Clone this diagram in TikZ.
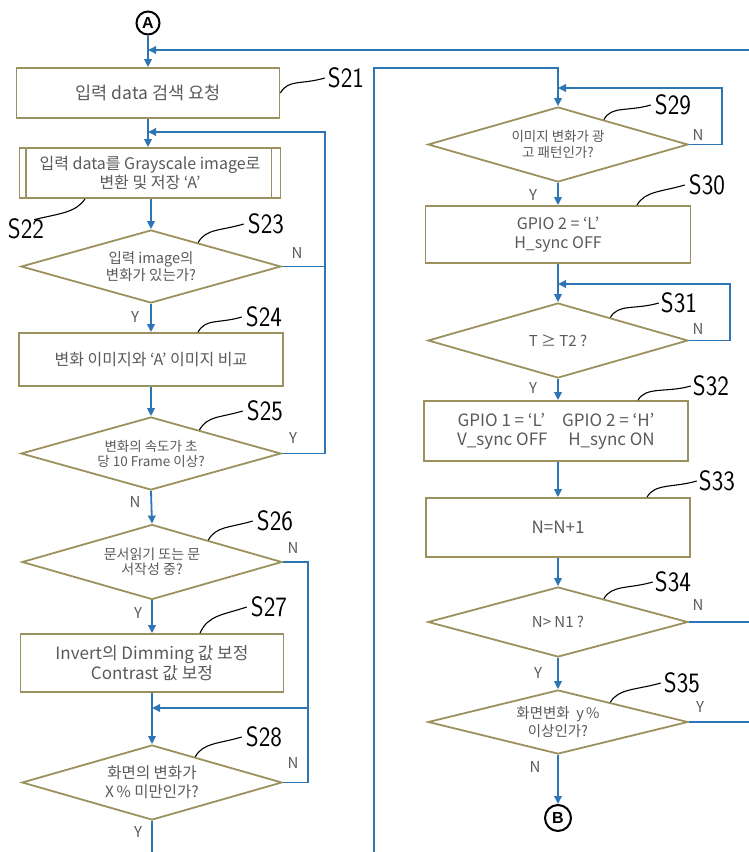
\documentclass[tikz,border=0pt]{standalone}
\usepackage{fontspec}
\setmainfont{Noto Sans CJK KR}
\newfontfamily\lblfont[FakeStretch=0.88]{lmsans17-regular.otf}
\newfontfamily\circfont{Liberation Sans}
\usetikzlibrary{arrows.meta,shapes.geometric,calc}
\definecolor{flow}{RGB}{46,117,182}
\definecolor{olive}{RGB}{155,145,95}
\definecolor{txt}{RGB}{90,90,90}
\begin{document}
\begin{tikzpicture}[x=1pt,y=-1pt,
  box/.style={draw=olive, line width=1.8pt, fill=white, text=txt, align=center, inner sep=0pt, font=\fontsize{16}{19}\selectfont},
  dia/.style={diamond, aspect=3.5, draw=olive, line width=1.8pt, fill=white, text=txt, align=center, inner sep=0pt, minimum width=260pt, font=\fontsize{14}{15}\selectfont},
  arr/.style={flow, line width=1.8pt, -{Triangle[length=8pt,width=7.5pt]}},
  ln/.style={flow, line width=1.8pt},
  yn/.style={text=txt, font=\fontsize{15}{15}\selectfont, inner sep=0pt},
  slbl/.style={font=\lblfont\fontsize{28}{28}\selectfont, inner sep=0pt},
  lead/.style={black, line width=1.1pt},
  conn/.style={circle, draw=black, line width=2pt, minimum size=23pt, inner sep=0pt, font=\circfont\bfseries\fontsize{16}{16}\selectfont}
]
\useasboundingbox (0,0) rectangle (749,852);

% ---------- left column ----------
\node[conn] (A) at (148,23) {A};
\node[box, minimum width=263pt, minimum height=50pt, font=\fontsize{17.5}{19}\selectfont] (S21) at (148,93) {입력 data 검색 요청};
\node[box, minimum width=261pt, minimum height=50pt] (S22) at (150,173) {입력 data를 Grayscale image로\\변환 및 저장 ‘A’};
\draw[olive, line width=1.8pt] ([xshift=7pt]S22.north west) -- ([xshift=7pt]S22.south west);
\draw[olive, line width=1.8pt] ([xshift=-10pt]S22.north east) -- ([xshift=-10pt]S22.south east);
\node[dia, minimum height=73pt, font=\fontsize{14.5}{15.5}\selectfont] (S23) at (151,266.5) {입력 image의\\변화가 있는가?};
\node[box, minimum width=264pt, minimum height=53pt] (S24) at (151,359.5) {변화 이미지와 ‘A’ 이미지 비교};
\node[dia, minimum height=73pt, font=\fontsize{13.5}{15}\selectfont] (S25) at (151,453.5) {변화의 속도가 초\\당 10 Frame 이상?};
\node[dia, minimum height=75pt, font=\fontsize{14}{15.5}\selectfont] (S26) at (152,562) {문서읽기 또는 문\\서작성 중?};
\node[box, minimum width=263pt, minimum height=58pt, font=\fontsize{17}{19.5}\selectfont] (S27) at (152,663) {Invert의 Dimming 값 보정\\Contrast 값 보정};
\node[dia, minimum height=75pt, font=\fontsize{15.5}{19}\selectfont] (S28) at (152,782.5) {화면의 변화가\\X\,\% 미만인가?};

% ---------- right column ----------
\node[dia, minimum height=75pt, font=\fontsize{13.5}{15.5}\selectfont] (S29) at (558,144.5) {이미지 변화가 광\\고 패턴인가?};
\node[box, minimum width=265pt, minimum height=57pt] (S30) at (558,234.5) {GPIO 2 = ‘L’\\H\_sync OFF};
\node[dia, minimum height=75pt, font=\fontsize{15}{15}\selectfont] (S31) at (558,340.5) {T ≥ T2 ?};
\node[box, minimum width=264pt, minimum height=60pt, font=\fontsize{17}{19}\selectfont] (S32) at (556,431) {GPIO 1 = ‘L’\quad GPIO 2 = ‘H’\\V\_sync OFF\quad\ H\_sync ON};
\node[box, minimum width=264pt, minimum height=59pt, font=\fontsize{17}{19}\selectfont] (S33) at (558,527.5) {N=N+1};
\node[dia, minimum height=70pt, font=\fontsize{15}{15}\selectfont] (S34) at (558,622) {N> N1 ?};
\node[dia, minimum height=64pt, font=\fontsize{14.5}{17.5}\selectfont] (S35) at (558,722) {화면변화 \ y\,\%\\이상인가?};
\node[conn, minimum size=26pt] (B) at (558,818) {B};

% ---------- helper coordinates ----------
\coordinate (topR) at (749,50);
\coordinate (j1) at (148,132);
\coordinate (lx1) at (325,0);
\coordinate (lx2) at (308,0);
\coordinate (j2) at (152,708);
\coordinate (bot1) at (152,852);
\coordinate (bot2) at (374,852);
\coordinate (t2) at (558,68);
\coordinate (j3) at (558,88);
\coordinate (lx3) at (722,0);
\coordinate (j4) at (558,284);
\coordinate (lx4) at (730,0);
\coordinate (r1) at (749,622);
\coordinate (r2) at (749,722);

% ---------- connectors left ----------
\draw[arr] (A.south) -- (S21.north);
\draw[arr] (topR) -- (topR -| A.south);
\draw[arr] (S21.south) -- (S21.south |- S22.north);
\draw[arr] (S23.east) -| (lx1 |- j1) -- (j1);
\draw[ln] (S25.east) -| (lx1 |- S23.east);
\draw[arr] (S22.south -| S23.north) -- (S23.north);
\draw[arr] (S23.south) -- (S24.north);
\draw[arr] (S24.south) -- (S25.north);
\draw[arr] (S25.south) -- (S26.north);
\draw[arr] (S26.south) -- (S27.north);
\draw[arr] (S27.south) -- (S28.north);
\draw[ln] (S26.east) -| (lx2 |- S28.east) -- (S28.east);
\draw[arr] (lx2 |- j2) -- (j2);
\draw[ln] (S28.south) -- (bot1);

% ---------- connectors right ----------
\draw[arr] (bot2) |- (t2) -- (S29.north);
\draw[arr] (S29.east) -| (lx3 |- j3) -- (j3);
\draw[arr] (S29.south) -- (S30.north);
\draw[arr] (S30.south) -- (S31.north);
\draw[arr] (S31.east) -| (lx4 |- j4) -- (j4);
\draw[arr] (S31.south) -- (S31.south |- S32.north);
\draw[arr] (S31.south |- S32.south) -- (S33.north);
\draw[arr] (S33.south) -- (S34.north);
\draw[arr] (S34.south) -- (S35.north);
\draw[arr] (S35.south) -- (B.north);
\draw[ln] (S34.east) -- (r1);
\draw[ln] (S35.east) -- (r2);

% ---------- Y / N labels ----------
\node[yn] (n23) at (297,253) {N};
\node[yn] (y23) at (135,317) {Y};
\node[yn] (y25) at (293,438) {Y};
\node[yn] (n25) at (135,502) {N};
\node[yn] (n26) at (293,548) {N};
\node[yn] (y26) at (138,613) {Y};
\node[yn] (n28) at (293,763) {N};
\node[yn] (y28) at (138,832) {Y};
\node[yn] (n29) at (698,135) {N};
\node[yn] (y29) at (533,195) {Y};
\node[yn] (n31) at (698,329) {N};
\node[yn] (y31) at (533,388) {Y};
\node[yn] (n34) at (698,605) {N};
\node[yn] (y34) at (538,673) {Y};
\node[yn] (y35) at (700,707) {Y};
\node[yn] (n35) at (535,767) {N};

% ---------- step labels ----------
\node[slbl] (L21) at (346,78) {S21};
\node[slbl] (L22) at (26,229) {S22};
\node[slbl] (L23) at (266,224) {S23};
\node[slbl] (L24) at (264,317) {S24};
\node[slbl] (L25) at (265,411) {S25};
\node[slbl] (L26) at (275,521) {S26};
\node[slbl] (L27) at (269,607) {S27};
\node[slbl] (L28) at (264,737) {S28};
\node[slbl] (L29) at (673,105) {S29};
\node[slbl] (L30) at (707,185) {S30};
\node[slbl] (L31) at (679,303) {S31};
\node[slbl] (L32) at (711,386) {S32};
\node[slbl] (L33) at (717,481) {S33};
\node[slbl] (L34) at (673,582) {S34};
\node[slbl] (L35) at (682,683) {S35};

% ---------- leader squiggles ----------
\draw[lead] (S21.east) .. controls +(8,-14) and +(-24,7) .. ([xshift=-3pt]L21.west);
\draw[lead] ([xshift=-65pt]S22.south) .. controls +(-9,14) and +(24,-6) .. ([shift={(-10pt,-1pt)}]L22.north east);
\draw[lead] ($(S23.north)!0.36!(S23.east)$) .. controls +(8,-14) and +(-24,7) .. ([xshift=-4pt]L23.west);
\draw[lead] ([xshift=47pt]S24.north) .. controls +(8,-14) and +(-24,7) .. ([xshift=-4pt]L24.west);
\draw[lead] ($(S25.north)!0.37!(S25.east)$) .. controls +(8,-14) and +(-24,7) .. ([xshift=-4pt]L25.west);
\draw[lead] ($(S26.north)!0.43!(S26.east)$) .. controls +(8,-14) and +(-24,7) .. ([xshift=-4pt]L26.west);
\draw[lead] ([xshift=48pt]S27.north) .. controls +(8,-18) and +(-24,8) .. ([xshift=-4pt]L27.west);
\draw[lead] ($(S28.north)!0.33!(S28.east)$) .. controls +(8,-14) and +(-24,7) .. ([xshift=-4pt]L28.west);
\draw[lead] ($(S29.north)!0.35!(S29.east)$) .. controls +(8,-14) and +(-24,7) .. ([xshift=-4pt]L29.west);
\draw[lead] ([xshift=79pt]S30.north) .. controls +(8,-14) and +(-24,7) .. ([xshift=-4pt]L30.west);
\draw[lead] ($(S31.north)!0.4!(S31.east)$) .. controls +(8,-14) and +(-24,7) .. ([xshift=-2pt]L31.west);
\draw[lead] ([xshift=82pt]S32.north) .. controls +(8,-14) and +(-24,7) .. ([xshift=-2pt]L32.west);
\draw[lead] ([xshift=89pt]S33.north) .. controls +(8,-14) and +(-24,7) .. ([xshift=-2pt]L33.west);
\draw[lead] ($(S34.north)!0.35!(S34.east)$) .. controls +(8,-14) and +(-24,7) .. ([xshift=-2pt]L34.west);
\draw[lead] ($(S35.north)!0.4!(S35.east)$) .. controls +(8,-14) and +(-24,7) .. ([xshift=-3pt]L35.west);
\end{tikzpicture}
\end{document}
